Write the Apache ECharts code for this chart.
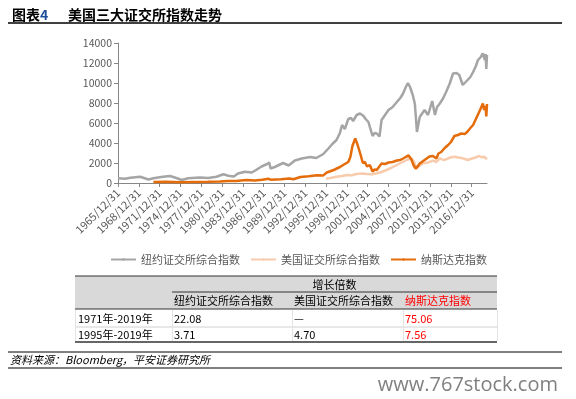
<!DOCTYPE html>
<html>
<head>
<meta charset="utf-8">
<script src="https://cdn.jsdelivr.net/npm/echarts@6/dist/echarts.min.js"></script>
<style>
  html, body { margin: 0; padding: 0; background: #fff; }
  #chart { width: 576px; height: 399px; }
</style>
</head>
<body>
<div id="chart"></div>
<script>
// x value = year of the "yyyy/12/31" label
const tickYears = [1965, 1968, 1971, 1974, 1977, 1980, 1983, 1986, 1989, 1992, 1995, 1998, 2001, 2004, 2007, 2010, 2013, 2016];
const seriesNames = ['纽约证交所综合指数', '美国证交所综合指数', '纳斯达克指数'];

const nyse = [
  [1965.0, 470], [1966.0, 420], [1966.8, 530], [1968.2, 630], [1969.4, 350], [1970.1, 470],
  [1971.5, 630], [1972.5, 700], [1973.3, 520], [1974.2, 300], [1975.1, 470], [1976.8, 560],
  [1978.0, 500], [1979.2, 630], [1980.2, 870], [1980.9, 720], [1981.7, 650], [1982.3, 950],
  [1983.3, 1130], [1984.3, 1050], [1984.9, 1300], [1985.7, 1650], [1986.5, 1900], [1986.8, 2050],
  [1987.0, 1450], [1987.6, 1600], [1988.8, 2000], [1989.6, 1750], [1990.5, 2250], [1991.5, 2450],
  [1992.7, 2600], [1993.6, 2500], [1994.6, 2900], [1995.4, 3500], [1995.9, 3900], [1996.5, 4300],
  [1997.0, 5000], [1997.3, 5800], [1997.7, 5400], [1998.2, 6400], [1998.6, 6500], [1998.9, 6200],
  [1999.4, 6800], [1999.9, 6950], [2000.4, 6700], [2000.7, 6400], [2001.1, 6100], [2001.4, 5400],
  [2001.7, 4700], [2002.0, 5000], [2002.3, 4950], [2002.7, 4650], [2003.0, 6300], [2003.5, 6800],
  [2004.0, 7300], [2004.6, 7600], [2005.2, 8100], [2005.7, 8500], [2006.1, 8950], [2006.5, 9600],
  [2006.8, 10000], [2007.1, 9600], [2007.5, 8800], [2007.8, 7900], [2008.1, 5100], [2008.5, 6600],
  [2009.2, 7300], [2009.7, 6800], [2010.3, 8200], [2010.7, 6800], [2011.0, 7600], [2011.4, 7950],
  [2011.9, 8500], [2012.3, 9100], [2012.8, 9900], [2013.3, 10950], [2013.8, 11000], [2014.2, 10800],
  [2014.7, 9800], [2015.4, 10300], [2015.8, 10600], [2016.2, 11100], [2016.6, 11700], [2016.9, 12300],
  [2017.3, 12600], [2017.6, 12950], [2017.9, 12300], [2018.0, 12900], [2018.1, 11400], [2018.2, 12800]
];

const amex = [
  [1995.0, 430], [1995.8, 520], [1996.5, 630], [1997.3, 700], [1998.0, 800], [1998.7, 780],
  [1999.4, 900], [2000.2, 950], [2000.9, 900], [2001.6, 880], [2002.3, 970], [2003.0, 1100],
  [2003.7, 1300], [2004.5, 1550], [2005.2, 1800], [2005.9, 2050], [2006.6, 2300], [2007.3, 2470],
  [2007.7, 2100], [2008.0, 1450], [2008.5, 1750], [2009.0, 1970], [2009.7, 2050], [2010.4, 2230],
  [2010.9, 2100], [2011.4, 2470], [2011.9, 2300], [2012.3, 2370], [2012.9, 2550], [2013.5, 2630],
  [2014.1, 2550], [2014.7, 2470], [2015.4, 2300], [2015.8, 2400], [2016.2, 2470], [2016.7, 2600],
  [2017.1, 2700], [2017.5, 2550], [2017.8, 2630], [2018.0, 2750], [2018.2, 2370]
];

const nasdaq = [
  [1970.1, 100], [1972.0, 130], [1974.0, 70], [1976.0, 100], [1978.0, 120], [1979.7, 150],
  [1980.9, 200], [1982.0, 190], [1983.5, 290], [1984.7, 250], [1985.8, 330], [1986.7, 420],
  [1987.0, 330], [1988.5, 380], [1989.7, 450], [1990.3, 370], [1991.3, 600], [1992.5, 680],
  [1993.7, 780], [1994.6, 760], [1995.1, 1050], [1996.1, 1300], [1997.0, 1600], [1997.7, 1900],
  [1998.2, 2100], [1998.5, 2600], [1998.8, 3700], [1999.2, 4450], [1999.5, 3900], [1999.9, 3000],
  [2000.3, 2000], [2000.6, 2100], [2000.9, 1650], [2001.3, 1800], [2001.7, 1150], [2002.0, 1350],
  [2002.3, 1300], [2003.0, 1950], [2003.5, 1900], [2004.0, 2050], [2004.6, 2100], [2005.2, 2250],
  [2005.7, 2300], [2006.1, 2450], [2006.6, 2650], [2006.9, 2750], [2007.3, 2350], [2007.6, 1800],
  [2007.9, 1450], [2008.2, 1650], [2008.5, 1950], [2009.0, 2200], [2009.5, 2450], [2009.9, 2650],
  [2010.4, 2700], [2010.9, 2450], [2011.2, 2950], [2011.6, 3100], [2012.1, 3500], [2012.6, 3800],
  [2013.0, 4100], [2013.5, 4700], [2014.0, 4800], [2014.5, 4950], [2015.0, 4900], [2015.4, 5150],
  [2015.8, 5500], [2016.2, 5800], [2016.6, 6400], [2016.9, 6850], [2017.2, 7300], [2017.6, 7950],
  [2017.8, 7300], [2018.0, 7700], [2018.1, 6650], [2018.2, 7900]
];

// growth multiples table
const tableTitle = '增长倍数';
const tableCols = ['纽约证交所综合指数', '美国证交所综合指数', '纳斯达克指数'];
const tablePeriods = ['1971年-2019年', '1995年-2019年'];
const tableNyse = ['22.08', '3.71'];
const tableAmex = ['—', '4.70'];
const tableNasdaq = ['75.06', '7.56'];

const FONT = '"Noto Sans CJK SC", "Noto Sans", sans-serif';

function txt(x, y, text, opts) {
  return {
    type: 'text',
    style: Object.assign({
      x: x, y: y, text: text,
      font: '11px ' + FONT,
      fill: '#000',
      verticalAlign: 'middle'
    }, opts || {})
  };
}

function hline(x1, x2, y, color, width) {
  return {
    type: 'line',
    shape: { x1: x1, y1: y, x2: x2, y2: y },
    style: { stroke: color, lineWidth: width }
  };
}

function vline(x, y1, y2, color) {
  return {
    type: 'line',
    shape: { x1: x, y1: y1, x2: x, y2: y2 },
    style: { stroke: color, lineWidth: 1 }
  };
}

const colX = [75, 172, 292, 403, 497];
const rowY = [319, 335];

const graphics = [
  txt(12, 15, '图表', { font: 'bold 14px ' + FONT }),
  txt(40, 15, '4', { font: 'bold 14px ' + FONT, fill: '#1F4E9A' }),
  txt(68, 15, '美国三大证交所指数走势', { font: 'bold 14px ' + FONT }),
  hline(8, 562, 23, '#000', 1.5),

  { type: 'rect', shape: { x: colX[0], y: 276, width: colX[4] - colX[0], height: 33 }, style: { fill: '#D9D9D9' } },
  hline(colX[0], colX[4], 276, '#333', 1),
  hline(colX[1], colX[4], 292, '#333', 1),
  hline(colX[0], colX[4], 309, '#333', 1),
  hline(colX[0], colX[4], 327, '#D0D0D0', 1),
  hline(colX[0], colX[4], 342, '#333', 1.5),
  txt((colX[1] + colX[4]) / 2, 285, tableTitle, { align: 'center' })
];

tableCols.forEach((c, i) => {
  graphics.push(txt(colX[i + 1] + 2, 301, c, { fill: i === 2 ? '#FF0000' : '#000' }));
});
for (let i = 0; i < 5; i++) {
  graphics.push(vline(colX[i] + 0.5, 310, 341, '#E3E3E3'));
}
tablePeriods.forEach((p, r) => {
  graphics.push(txt(colX[0] + 3, rowY[r], p));
  graphics.push(txt(colX[1] + 2, rowY[r], tableNyse[r]));
  graphics.push(txt(colX[2] + 2, rowY[r], tableAmex[r]));
  graphics.push(txt(colX[3] + 2, rowY[r], tableNasdaq[r], { fill: '#FF0000' }));
});

graphics.push(
  hline(8, 562, 352, '#000', 1),
  txt(10, 360, '资料来源：Bloomberg，平安证券研究所', { font: 'italic 11px ' + FONT }),
  hline(8, 562, 368, '#000', 1),
  txt(558, 385, 'www.767stock.com', { font: '20px "Open Sans", sans-serif', fill: '#808080', align: 'right' })
);

const chart = echarts.init(document.getElementById('chart'));

chart.setOption({
  animation: false,
  backgroundColor: '#fff',
  grid: { left: 118, right: 89, top: 43, bottom: 216 },
  legend: {
    left: 105,
    top: 249,
    itemWidth: 25,
    itemHeight: 3,
    itemGap: 10,
    textStyle: { fontSize: 11, color: '#595959', fontFamily: FONT },
    data: seriesNames
  },
  xAxis: {
    type: 'value',
    min: 1965,
    max: 2018.2,
    interval: 3,
    splitLine: { show: false },
    axisLine: { lineStyle: { color: '#868686', width: 1 } },
    axisTick: { length: 4, customValues: tickYears, lineStyle: { color: '#868686' } },
    axisLabel: {
      customValues: tickYears,
      rotate: 45,
      fontSize: 11,
      color: '#595959',
      fontFamily: FONT,
      margin: 8,
      formatter: (v) => v + '/12/31'
    }
  },
  yAxis: {
    type: 'value',
    min: 0,
    max: 14000,
    interval: 2000,
    splitLine: { show: false },
    axisLine: { show: true, lineStyle: { color: '#868686', width: 1 } },
    axisTick: { show: true, length: 4, lineStyle: { color: '#868686' } },
    axisLabel: { fontSize: 10.5, color: '#595959', fontFamily: FONT, margin: 6, formatter: (v) => String(v) }
  },
  series: [
    { name: seriesNames[0], type: 'line', data: nyse, symbol: 'none', lineStyle: { width: 2.5, color: '#A5A5A5' }, itemStyle: { color: '#A5A5A5' } },
    { name: seriesNames[1], type: 'line', data: amex, symbol: 'none', lineStyle: { width: 2.5, color: '#F8CBAD' }, itemStyle: { color: '#F8CBAD' } },
    { name: seriesNames[2], type: 'line', data: nasdaq, symbol: 'none', lineStyle: { width: 2.5, color: '#E46C0A' }, itemStyle: { color: '#E46C0A' } }
  ],
  graphic: graphics
});
</script>
</body>
</html>
